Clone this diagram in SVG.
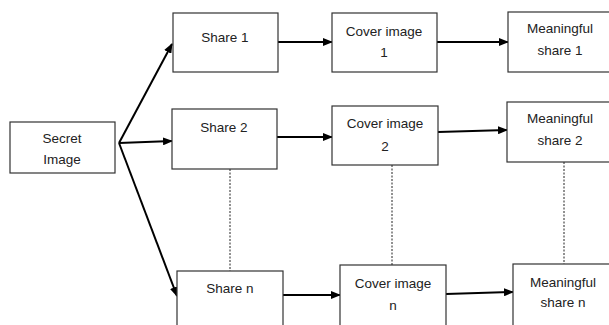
<svg xmlns="http://www.w3.org/2000/svg" width="609" height="325" viewBox="0 0 609 325">
<style>
.box{fill:#fff;stroke:#333;stroke-width:1.2}
.t{font-family:"Liberation Sans",Arial,sans-serif;font-size:13.5px;fill:#222;text-anchor:middle}
.a{stroke:#000;stroke-width:2;fill:none;marker-end:url(#ah)}
.d{stroke:#222;stroke-width:1;stroke-dasharray:2,1.5;fill:none}
</style>
<defs>
<marker id="ah" markerWidth="10" markerHeight="8" refX="9" refY="4" orient="auto" markerUnits="userSpaceOnUse">
<path d="M0,0 L10,4 L0,8 Z" fill="#000"/>
</marker>
</defs>
<rect width="609" height="325" fill="#fff"/>
<g id="connectors">
<line class="a" x1="119" y1="143" x2="172" y2="44"/>
<line class="a" x1="119" y1="143" x2="172" y2="141"/>
<line class="a" x1="119" y1="143" x2="177" y2="296"/>
<line class="a" x1="278" y1="42" x2="332" y2="42"/>
<line class="a" x1="437" y1="42" x2="508" y2="42"/>
<line class="a" x1="277" y1="137" x2="332" y2="137"/>
<line class="a" x1="438" y1="132" x2="507" y2="130"/>
<line class="a" x1="283" y1="295" x2="340" y2="295"/>
<line class="a" x1="446" y1="294" x2="513" y2="292"/>
<line class="d" x1="230" y1="169" x2="230" y2="271"/>
<line class="d" x1="392" y1="165" x2="392" y2="265"/>
<line class="d" x1="564" y1="162" x2="564" y2="264"/>
</g>
<g id="secret">
<rect class="box" x="10" y="122" width="105" height="51"/>
<text class="t" x="62" y="143">Secret</text>
<text class="t" x="62" y="164">Image</text>
</g>
<g id="share1">
<rect class="box" x="173" y="13" width="105" height="59"/>
<text class="t" x="225" y="42">Share 1</text>
</g>
<g id="share2">
<rect class="box" x="172" y="109" width="105" height="60"/>
<text class="t" x="224" y="132">Share 2</text>
</g>
<g id="sharen">
<rect class="box" x="177" y="271" width="106" height="60"/>
<text class="t" x="230" y="293">Share n</text>
</g>
<g id="cover1">
<rect class="box" x="332" y="13" width="105" height="59"/>
<text class="t" x="384" y="36">Cover image</text>
<text class="t" x="384" y="57">1</text>
</g>
<g id="cover2">
<rect class="box" x="332" y="106" width="106" height="59"/>
<text class="t" x="385" y="128">Cover image</text>
<text class="t" x="385" y="151">2</text>
</g>
<g id="covern">
<rect class="box" x="340" y="265" width="106" height="66"/>
<text class="t" x="393" y="288">Cover image</text>
<text class="t" x="393" y="310">n</text>
</g>
<g id="meaning1">
<rect class="box" x="508" y="12" width="106" height="60"/>
<text class="t" x="560" y="33">Meaningful</text>
<text class="t" x="560" y="55">share 1</text>
</g>
<g id="meaning2">
<rect class="box" x="507" y="102" width="107" height="60"/>
<text class="t" x="560" y="123">Meaningful</text>
<text class="t" x="560" y="145">share 2</text>
</g>
<g id="meaningn">
<rect class="box" x="513" y="264" width="101" height="67"/>
<text class="t" x="563" y="287">Meaningful</text>
<text class="t" x="563" y="307">share n</text>
</g>
</svg>
